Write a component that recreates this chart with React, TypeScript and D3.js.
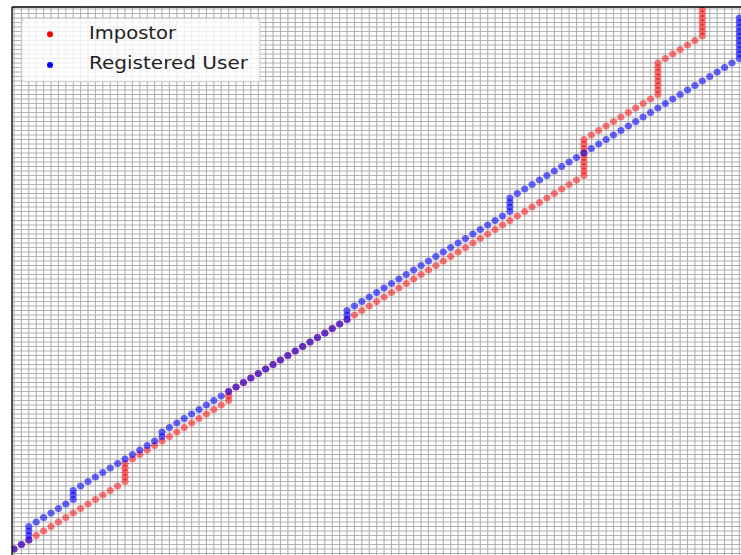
import React from "react";
import * as d3 from "d3";

// Step-wise score trajectories: every point advances one unit in y;
// it either also advances in x (diagonal) or stays (vertical run).
const impostorX = [
  0, 1, 2, 3, 4, 5, 6, 7, 8, 9, 10, 11, 12, 13, 14, 15,
  15, 15, 15, 15,
  16, 17, 18, 19, 20, 21, 22, 23, 24, 25, 26, 27, 28,
  29, 29, 29,
  30, 31, 32, 33, 34, 35, 36, 37, 38, 39, 40, 41, 42, 43, 44, 45, 46, 47, 48, 49,
  50, 51, 52, 53, 54, 55, 56, 57, 58, 59, 60, 61, 62, 63, 64, 65, 66, 67, 68, 69,
  70, 71, 72, 73, 74, 75, 76, 77,
  77, 77, 77, 77, 77, 77, 77, 77,
  78, 79, 80, 81, 82, 83, 84, 85, 86, 87,
  87, 87, 87, 87, 87, 87, 87,
  88, 89, 90, 91, 92, 93,
  93, 93, 93, 93, 93, 93, 93, 93, 93, 93,
];
const impostorY = [
  0, 1, 2, 3, 4, 5, 6, 7, 8, 9, 10, 11, 12, 13, 14, 15,
  16, 17, 18, 19,
  20, 21, 22, 23, 24, 25, 26, 27, 28, 29, 30, 31, 32,
  33, 34, 35,
  36, 37, 38, 39, 40, 41, 42, 43, 44, 45, 46, 47, 48, 49, 50, 51, 52, 53, 54, 55,
  56, 57, 58, 59, 60, 61, 62, 63, 64, 65, 66, 67, 68, 69, 70, 71, 72, 73, 74, 75,
  76, 77, 78, 79, 80, 81, 82, 83,
  84, 85, 86, 87, 88, 89, 90, 91,
  92, 93, 94, 95, 96, 97, 98, 99, 100, 101,
  102, 103, 104, 105, 106, 107, 108,
  109, 110, 111, 112, 113, 114,
  115, 116, 117, 118, 119, 120, 121, 122, 123, 124,
];

const registeredX = [
  0, 1,
  2, 2, 2, 2,
  3, 4, 5, 6, 7, 8,
  8, 8,
  9, 10, 11, 12, 13, 14, 15, 16, 17, 18, 19,
  20, 20,
  21, 22, 23, 24, 25, 26, 27, 28, 29, 30, 31, 32, 33, 34, 35, 36, 37, 38, 39, 40,
  41, 42, 43, 44,
  45, 45, 45,
  46, 47, 48, 49, 50, 51, 52, 53, 54, 55, 56, 57, 58, 59, 60, 61, 62, 63, 64, 65, 66,
  67, 67, 67, 67,
  68, 69, 70, 71, 72, 73, 74, 75, 76, 77, 78, 79, 80, 81, 82, 83, 84, 85, 86, 87,
  88, 89, 90, 91, 92, 93, 94, 95, 96, 97,
  98, 98, 98, 98, 98, 98, 98, 98, 98, 98,
];
const registeredY = [
  0, 1,
  2, 3, 4, 5,
  6, 7, 8, 9, 10, 11,
  12, 13,
  14, 15, 16, 17, 18, 19, 20, 21, 22, 23, 24,
  25, 26,
  27, 28, 29, 30, 31, 32, 33, 34, 35, 36, 37, 38, 39, 40, 41, 42, 43, 44, 45, 46,
  47, 48, 49, 50,
  51, 52, 53,
  54, 55, 56, 57, 58, 59, 60, 61, 62, 63, 64, 65, 66, 67, 68, 69, 70, 71, 72, 73, 74,
  75, 76, 77, 78,
  79, 80, 81, 82, 83, 84, 85, 86, 87, 88, 89, 90, 91, 92, 93, 94, 95, 96, 97, 98,
  99, 100, 101, 102, 103, 104, 105, 106, 107, 108,
  109, 110, 111, 112, 113, 114, 115, 116, 117, 118,
];

const seriesNames = ["Impostor", "Registered User"];
const seriesColors = ["red", "blue"];
const seriesOpacity = [0.5, 0.58];

const W = 741;
const H = 555;
const left = 12;
const top = 7;
const right = 746;
const bottom = 556;

export default function App() {
  const x = d3.scaleLinear().domain([-0.27, 98.9]).range([left, right]);
  const y = d3.scaleLinear().domain([-1.5, 120.4]).range([555.75, 7.2]);

  const xGrid = d3.range(0, 100);
  const yGrid = d3.range(-1, 121);

  const series = [
    { name: seriesNames[0], color: seriesColors[0], op: seriesOpacity[0], xs: impostorX, ys: impostorY },
    { name: seriesNames[1], color: seriesColors[1], op: seriesOpacity[1], xs: registeredX, ys: registeredY },
  ];

  return (
    <svg
      width={W}
      height={H}
      style={{ position: "absolute", left: 0, top: 0, background: "#fff" }}
      fontFamily="DejaVu Sans, sans-serif"
    >
      <defs>
        <clipPath id="plot-area">
          <rect x={left} y={top} width={right - left} height={bottom - top} />
        </clipPath>
      </defs>
      <rect x={left} y={top} width={right - left} height={bottom - top} fill="#fff" />
      <g clipPath="url(#plot-area)">
        <g stroke="#b0b0b0" strokeWidth={1.1}>
          {xGrid.map((v) => (
            <line key={"gx" + v} x1={x(v)} x2={x(v)} y1={top} y2={bottom} />
          ))}
          {yGrid.map((v) => (
            <line key={"gy" + v} x1={left} x2={right} y1={y(v)} y2={y(v)} />
          ))}
        </g>
        {series.map((s) => (
          <g key={s.name} fill={s.color} fillOpacity={s.op}>
            {s.xs.map((xv, i) => (
              <circle key={i} cx={x(xv)} cy={y(s.ys[i])} r={3.6} />
            ))}
          </g>
        ))}
      </g>
      <line x1={left} x2={left} y1={top} y2={H} stroke="#000" strokeWidth={1.3} />
      <line x1={left} x2={W} y1={top} y2={top} stroke="#000" strokeWidth={1.3} />

      <g>
        <rect
          x={21.7}
          y={18.3}
          width={238.3}
          height={63.4}
          rx={3}
          fill="#fff"
          fillOpacity={0.8}
          stroke="#cccccc"
          strokeWidth={1}
        />
        {series.map((s, i) => (
          <g key={"lg" + s.name}>
            <circle cx={50} cy={34.3 + i * 30.7} r={3} fill={s.color} />
            <text
              x={89}
              y={38.5 + i * 30.4}
              fontSize={17}
              fill="#222"
              textLength={i === 0 ? 87 : 159}
              lengthAdjust="spacingAndGlyphs"
            >
              {s.name}
            </text>
          </g>
        ))}
      </g>
    </svg>
  );
}
